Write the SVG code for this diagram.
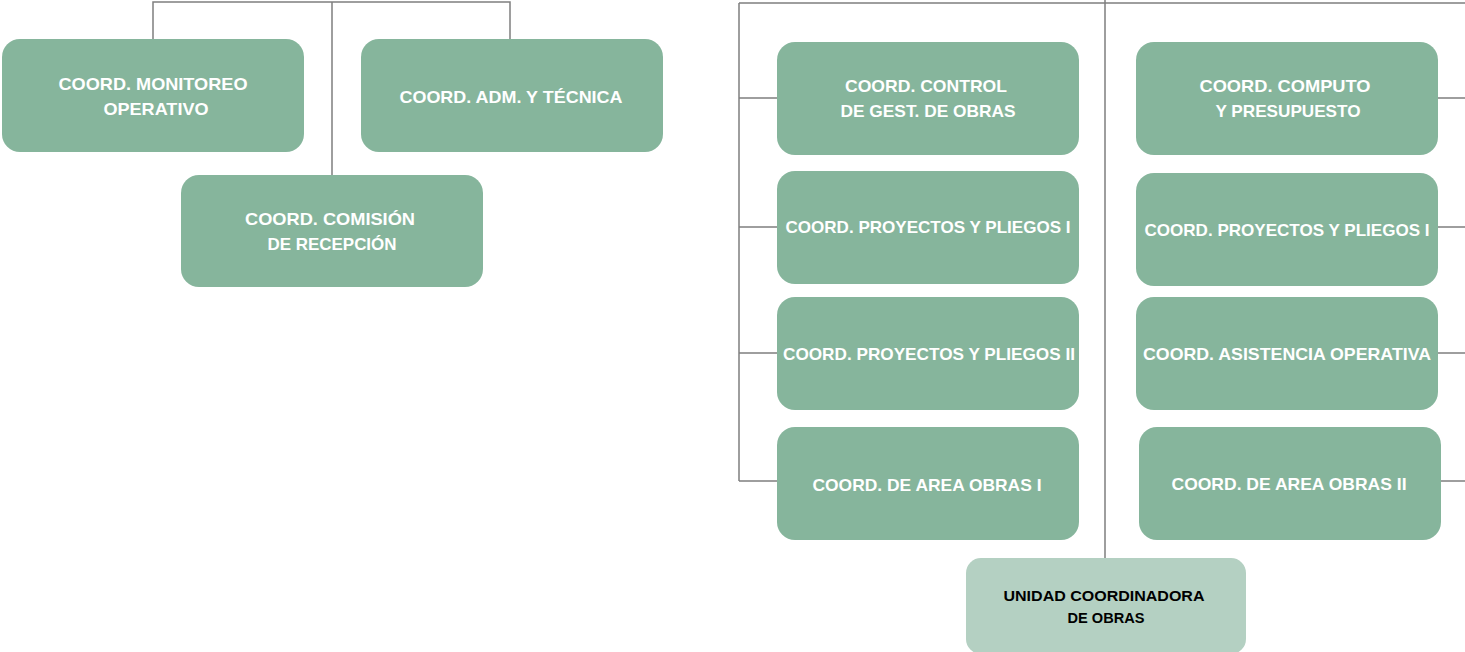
<svg xmlns="http://www.w3.org/2000/svg" width="1465" height="652" viewBox="0 0 1465 652">
<style>
.n{fill:#86b59c}
.u{fill:#b4d0c2}
.t{font-family:"Liberation Sans",Arial,sans-serif;font-weight:bold;font-size:17px;fill:#ffffff;text-anchor:middle}
.k{font-family:"Liberation Sans",Arial,sans-serif;font-weight:bold;font-size:14.5px;fill:#000000;text-anchor:middle}
.c{fill:none;stroke:#7f7f7f;stroke-width:1.5}
</style>
<rect width="1465" height="652" fill="#ffffff"/>
<g id="connectors">
<path class="c" d="M153 39V2H510V39M332 2V175"/>
<path class="c" d="M739 3H1465M1105 0V558M739 3V481M739 98H777M739 227H777M739 353H777M739 481H777"/>
<path class="c" d="M1438 98H1465M1438 227H1465M1438 353H1465M1441 481H1465"/>
</g>
<g id="n-monitoreo"><rect class="n" x="2" y="39" width="302" height="113" rx="18"/>
<text class="t" x="153" y="90" textLength="189" lengthAdjust="spacingAndGlyphs">COORD. MONITOREO</text>
<text class="t" x="156" y="115" textLength="105" lengthAdjust="spacingAndGlyphs">OPERATIVO</text></g>
<g id="n-adm"><rect class="n" x="361" y="39" width="302" height="113" rx="18"/>
<text class="t" x="511" y="103" textLength="223" lengthAdjust="spacingAndGlyphs">COORD. ADM. Y TÉCNICA</text></g>
<g id="n-comision"><rect class="n" x="181" y="175" width="302" height="112" rx="18"/>
<text class="t" x="330" y="225" textLength="170" lengthAdjust="spacingAndGlyphs">COORD. COMISIÓN</text>
<text class="t" x="332" y="250" textLength="129" lengthAdjust="spacingAndGlyphs">DE RECEPCIÓN</text></g>
<g id="n-control"><rect class="n" x="777" y="42" width="302" height="113" rx="18"/>
<text class="t" x="926" y="92" textLength="162" lengthAdjust="spacingAndGlyphs">COORD. CONTROL</text>
<text class="t" x="928" y="117" textLength="175" lengthAdjust="spacingAndGlyphs">DE GEST. DE OBRAS</text></g>
<g id="n-computo"><rect class="n" x="1136" y="42" width="302" height="113" rx="18"/>
<text class="t" x="1285" y="92" textLength="171" lengthAdjust="spacingAndGlyphs">COORD. COMPUTO</text>
<text class="t" x="1288" y="117" textLength="145" lengthAdjust="spacingAndGlyphs">Y PRESUPUESTO</text></g>
<g id="n-proy1a"><rect class="n" x="777" y="171" width="302" height="113" rx="18"/>
<text class="t" x="928" y="233" textLength="285" lengthAdjust="spacingAndGlyphs">COORD. PROYECTOS Y PLIEGOS I</text></g>
<g id="n-proy1b"><rect class="n" x="1136" y="173" width="302" height="113" rx="18"/>
<text class="t" x="1287" y="236" textLength="285" lengthAdjust="spacingAndGlyphs">COORD. PROYECTOS Y PLIEGOS I</text></g>
<g id="n-proy2"><rect class="n" x="777" y="297" width="302" height="113" rx="18"/>
<text class="t" x="929" y="360" textLength="292" lengthAdjust="spacingAndGlyphs">COORD. PROYECTOS Y PLIEGOS II</text></g>
<g id="n-asist"><rect class="n" x="1136" y="297" width="302" height="113" rx="18"/>
<text class="t" x="1287" y="360" textLength="288" lengthAdjust="spacingAndGlyphs">COORD. ASISTENCIA OPERATIVA</text></g>
<g id="n-area1"><rect class="n" x="777" y="427" width="302" height="113" rx="18"/>
<text class="t" x="927" y="491" textLength="229" lengthAdjust="spacingAndGlyphs">COORD. DE AREA OBRAS I</text></g>
<g id="n-area2"><rect class="n" x="1139" y="427" width="302" height="113" rx="18"/>
<text class="t" x="1289" y="490" textLength="235" lengthAdjust="spacingAndGlyphs">COORD. DE AREA OBRAS II</text></g>
<g id="n-unidad"><rect class="u" x="966" y="558" width="280" height="96" rx="15"/>
<text class="k" x="1104" y="601" textLength="201" lengthAdjust="spacingAndGlyphs">UNIDAD COORDINADORA</text>
<text class="k" x="1106" y="623" textLength="77" lengthAdjust="spacingAndGlyphs">DE OBRAS</text></g>
</svg>
